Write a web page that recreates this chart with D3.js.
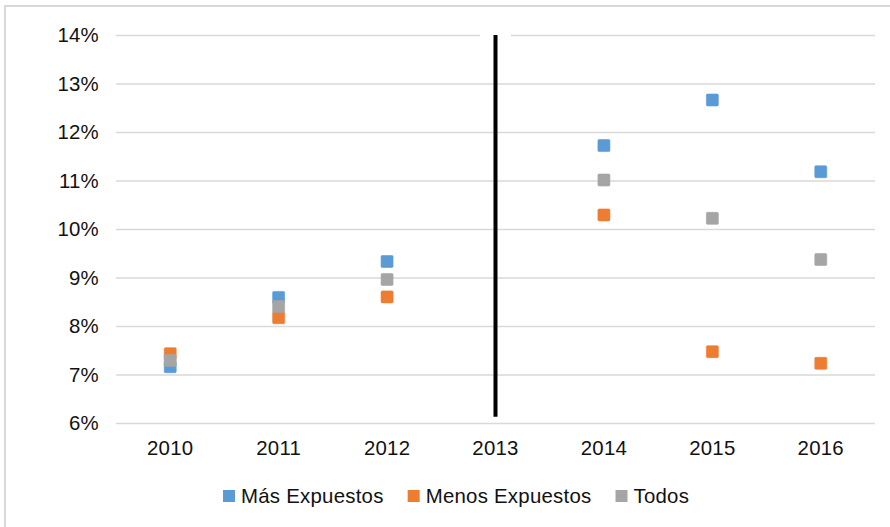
<!DOCTYPE html>
<html>
<head>
<meta charset="utf-8">
<script src="https://cdn.jsdelivr.net/npm/d3@7"></script>
<style>
  body { margin: 0; background: #fff; }
  svg text { font-family: "Liberation Sans", Arial, sans-serif; fill: #111; letter-spacing: 0.25px; }
</style>
</head>
<body>
<svg id="chart" width="890" height="527"></svg>
<script>
// DATA
const years = ["2010", "2011", "2012", "2013", "2014", "2015", "2016"];
const masExpuestos   = [7.16, 8.59, 9.33, null, 11.72, 12.66, 11.18];
const menosExpuestos = [7.43, 8.17, 8.60, null, 10.29, 7.47, 7.23];
const todos          = [7.29, 8.40, 8.96, null, 11.01, 10.22, 9.37];
const yTicks = [6, 7, 8, 9, 10, 11, 12, 13, 14];
const dividerYear = "2013";
const dividerRange = [6.13, 14];

const seriesList = [
  { name: "Más Expuestos",   values: masExpuestos,   color: "#5B9BD5" },
  { name: "Menos Expuestos", values: menosExpuestos, color: "#ED7D31" },
  { name: "Todos",           values: todos,          color: "#A5A5A5" }
];

const width = 890, height = 527;
const margin = { top: 35, right: 15, bottom: 104, left: 116 };
const fontSize = 20.4;

const svg = d3.select("#chart");

// outer chart border (only top/left visible in the crop)
svg.append("rect")
  .attr("x", 5).attr("y", 6)
  .attr("width", 1000).attr("height", 1000)
  .attr("fill", "none")
  .attr("stroke", "#d9d9d9")
  .attr("stroke-width", 2);

/* SCALES */
const xScale = d3.scaleBand()
  .domain(years)
  .range([margin.left, width - margin.right])
  .padding(0);

const yScale = d3.scaleLinear()
  .domain([6, 14])
  .range([height - margin.bottom, margin.top]);

// GRIDLINES + Y LABELS
const yAxisGroup = svg.append("g")
  .attr("transform", `translate(${margin.left}, 0)`)
  .call(d3.axisLeft(yScale)
    .tickValues(yTicks)
    .tickSize(-(width - margin.left - margin.right))
    .tickPadding(17)
    .tickFormat(d => d + "%"));

yAxisGroup.select(".domain").remove();
yAxisGroup.selectAll(".tick line")
  .attr("stroke", "#d9d9d9")
  .attr("stroke-width", 1.4);
yAxisGroup.selectAll(".tick text")
  .attr("font-size", fontSize)
  .attr("fill", "#111");

// X LABELS
const xAxisGroup = svg.append("g")
  .attr("transform", `translate(0, ${height - margin.bottom})`)
  .call(d3.axisBottom(xScale).tickSize(0).tickPadding(18));

xAxisGroup.select(".domain").remove();
xAxisGroup.selectAll(".tick text")
  .attr("font-size", fontSize)
  .attr("fill", "#111");

// DIVIDER LINE (with white gap in the top gridline)
const divX = xScale(dividerYear) + xScale.bandwidth() / 2;
svg.append("rect")
  .attr("x", divX - 15.5)
  .attr("y", yScale(14) - 2)
  .attr("width", 31)
  .attr("height", 4)
  .attr("fill", "#fff");

svg.append("line")
  .attr("x1", divX).attr("x2", divX)
  .attr("y1", yScale(dividerRange[1]))
  .attr("y2", yScale(dividerRange[0]))
  .attr("stroke", "#000")
  .attr("stroke-width", 4);

// MARKERS
const markerSize = 12;
seriesList.forEach(s => {
  const pts = years
    .map((y, i) => ({ year: y, value: s.values[i] }))
    .filter(d => d.value !== null);

  svg.append("g")
    .selectAll("rect")
    .data(pts)
    .join("rect")
      .attr("x", d => xScale(d.year) + xScale.bandwidth() / 2 - markerSize / 2)
      .attr("y", d => yScale(d.value) - markerSize / 2)
      .attr("width", markerSize)
      .attr("height", markerSize)
      .attr("rx", 1.2)
      .attr("fill", s.color)
      .attr("stroke", s.color)
      .attr("stroke-opacity", 0.6)
      .attr("stroke-width", 1);
});

// LEGEND
const legend = svg.append("g")
  .attr("transform", `translate(223, 496)`);

let offset = 0;
seriesList.forEach(s => {
  const item = legend.append("g").attr("transform", `translate(${offset}, 0)`);
  item.append("rect")
    .attr("x", 0).attr("y", -6)
    .attr("width", 12).attr("height", 12)
    .attr("fill", s.color);
  const t = item.append("text")
    .attr("x", 18)
    .attr("y", 7)
    .attr("font-size", fontSize)
    .text(s.name);
  offset += 18 + t.node().getComputedTextLength() + 24;
});
</script>
</body>
</html>
